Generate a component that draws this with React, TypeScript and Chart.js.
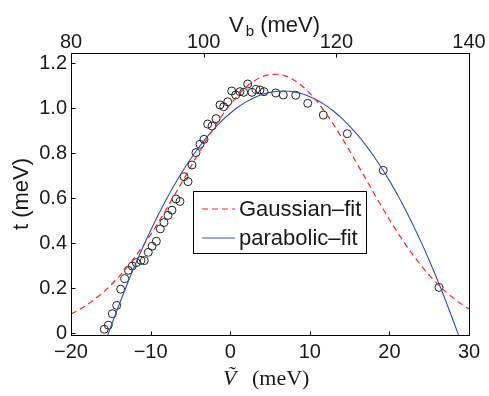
import React, { useEffect, useRef } from 'react';
import { Chart, registerables } from 'chart.js';

Chart.register(...registerables);

// ---- data ----
const vTilde = [
  -15.82, -15.31, -14.81, -14.26, -13.76, -13.25, -12.8, -12.3, -11.8, -11.21,
  -10.79, -10.29, -9.82, -9.28, -8.78, -8.32, -7.81, -7.31, -6.81, -6.31,
  -5.8, -5.3, -4.8, -4.3, -3.79, -3.29, -2.83, -2.29, -1.78, -1.28,
  -0.82, -0.31, 0.19, 0.69, 1.23, 1.7, 2.2, 2.74, 3.24, 3.74,
  4.25, 5.72, 6.67, 8.23, 9.74, 11.7, 14.71, 19.23, 26.23,
];
const tMeasured = [
  0.018, 0.036, 0.087, 0.124, 0.196, 0.243, 0.28, 0.299, 0.314, 0.324,
  0.323, 0.36, 0.387, 0.409, 0.464, 0.492, 0.524, 0.547, 0.597, 0.586,
  0.696, 0.674, 0.748, 0.803, 0.84, 0.862, 0.93, 0.921, 0.954, 1.015,
  1.007, 1.029, 1.077, 1.059, 1.074, 1.071, 1.108, 1.071, 1.084, 1.081,
  1.074, 1.068, 1.059, 1.058, 1.022, 0.97, 0.887, 0.724, 0.204,
];

const gaussV = [
  -20, -19, -18, -17, -16, -15, -14, -13, -12, -11,
  -10, -9, -8, -7, -6, -5, -4, -3, -2, -1,
  0, 1, 2, 3, 4, 5, 6, 7, 8, 9,
  10, 11, 12, 13, 14, 15, 16, 17, 18, 19,
  20, 21, 22, 23, 24, 25, 26, 27, 28, 29, 30,
];
const gaussT = [
  0.0855, 0.1044, 0.1264, 0.1518, 0.1809, 0.2138, 0.2509, 0.2919, 0.337, 0.3859,
  0.4386, 0.4943, 0.553, 0.6136, 0.6754, 0.7375, 0.7991, 0.8591, 0.9161, 0.9691,
  1.0172, 1.0593, 1.0943, 1.1215, 1.1404, 1.1504, 1.1513, 1.1431, 1.126, 1.1004,
  1.0669, 1.0261, 0.9792, 0.927, 0.8707, 0.8113, 0.75, 0.6879, 0.6259, 0.565,
  0.506, 0.4495, 0.3962, 0.3465, 0.3006, 0.2587, 0.221, 0.1872, 0.1573, 0.1312, 0.1085,
];

const parabV = [
  -15.5, -15, -14, -13, -12, -11, -10, -9, -8, -7,
  -6, -5, -4, -3, -2, -1, 0, 1, 2, 3,
  4, 5, 6, 7, 8, 9, 10, 11, 12, 13,
  14, 15, 16, 17, 18, 19, 20, 21, 22, 23,
  24, 25, 26, 27, 28, 29,
];
const parabT = [
  -0.0197, 0.0292, 0.1238, 0.2138, 0.2994, 0.3806, 0.4572, 0.5294, 0.5971, 0.6604,
  0.7192, 0.7735, 0.8233, 0.8687, 0.9096, 0.946, 0.978, 1.0055, 1.0285, 1.0471,
  1.0611, 1.0707, 1.0759, 1.0766, 1.0728, 1.0645, 1.0518, 1.0345, 1.0129, 0.9867,
  0.9561, 0.921, 0.8814, 0.8374, 0.7889, 0.7359, 0.6785, 0.6166, 0.5502, 0.4794,
  0.404, 0.3243, 0.24, 0.1513, 0.0581, -0.0396,
];

const xTicks = [-20, -10, 0, 10, 20, 30];
const vbTicks = [80, 100, 120, 140];
const yTicks = [0, 0.2, 0.4, 0.6, 0.8, 1.0, 1.2];
const legendLabels = ['Gaussian\u2013fit', 'parabolic\u2013fit'];
const yTitle = 't (meV)';
const topTitleMain = 'V';
const topTitleSub = 'b';
const topTitleUnit = '(meV)';
const bottomTitleVar = '\u1E7C';
const bottomTitleUnit = '(meV)';

const RED = 'rgb(238, 40, 45)';
const BLUE = 'rgb(50, 80, 170)';
const TXT = '#1a1a1a';
const SANS = '"Liberation Sans", Arial, Helvetica, sans-serif';
const SERIF = '"Liberation Serif", "Times New Roman", serif';

const fmtX = (v: number) => (v < 0 ? '\u2212' + Math.abs(v) : String(v));
const fmtY = (v: number) => (Math.abs(v) < 1e-9 ? '0' : v.toFixed(1));

const decor = {
  id: 'decor',
  afterDraw(chart: any) {
    const { ctx, chartArea: a, scales } = chart;
    ctx.save();
    const L = Math.round(a.left) + 0.5;
    const R = Math.round(a.right) + 0.5;
    const T = Math.floor(a.top) + 0.5;
    const B = Math.round(a.bottom) + 0.5;
    ctx.strokeStyle = '#000';
    ctx.lineWidth = 1;
    ctx.setLineDash([]);
    ctx.strokeRect(L, T, R - L, B - T);
    const tl = 4;
    ctx.beginPath();
    xTicks.forEach((v) => {
      const px = Math.round(scales.x.getPixelForValue(v)) + 0.5;
      ctx.moveTo(px, B);
      ctx.lineTo(px, B - tl);
    });
    vbTicks.forEach((v) => {
      const px = Math.round(scales.xTop.getPixelForValue(v)) + 0.5;
      ctx.moveTo(px, T);
      ctx.lineTo(px, T + tl);
    });
    yTicks.forEach((v) => {
      const py = Math.round(scales.y.getPixelForValue(v)) + 0.5;
      ctx.moveTo(L, py);
      ctx.lineTo(L + tl, py);
    });
    ctx.stroke();

    // legend
    const lx = 193.5, ly = 191.5, lw = 173, lh = 62;
    ctx.fillStyle = '#fff';
    ctx.fillRect(lx, ly, lw, lh);
    ctx.strokeStyle = '#000';
    ctx.strokeRect(lx, ly, lw, lh);
    const rows = [
      { y: 209, base: 216, color: RED, dash: [6, 4], w: 1.2 },
      { y: 238, base: 245, color: BLUE, dash: [], w: 1.1 },
    ];
    rows.forEach((r, i) => {
      ctx.beginPath();
      ctx.strokeStyle = r.color;
      ctx.lineWidth = r.w;
      ctx.setLineDash(r.dash);
      ctx.moveTo(202, r.y);
      ctx.lineTo(235, r.y);
      ctx.stroke();
      ctx.setLineDash([]);
      ctx.fillStyle = TXT;
      ctx.font = '22px ' + SANS;
      ctx.textAlign = 'left';
      ctx.textBaseline = 'alphabetic';
      ctx.fillText(legendLabels[i], 239, r.base);
    });

    // top title V_b (meV)
    ctx.fillStyle = TXT;
    ctx.textBaseline = 'alphabetic';
    ctx.textAlign = 'left';
    ctx.font = '22px ' + SANS;
    let x = 229;
    ctx.fillText(topTitleMain, x, 32);
    x += ctx.measureText(topTitleMain).width + 2;
    ctx.font = '15px ' + SANS;
    ctx.fillText(topTitleSub, x, 36);
    x += ctx.measureText(topTitleSub).width;
    ctx.font = '22px ' + SANS;
    x += ctx.measureText(' ').width;
    ctx.fillText(topTitleUnit, x, 32);

    // bottom title
    ctx.font = 'italic 22px ' + SERIF;
    ctx.fillText(bottomTitleVar, 223, 385);
    ctx.font = '22px ' + SERIF;
    ctx.fillText(bottomTitleUnit, 252, 385);

    // y title
    ctx.save();
    ctx.translate(28, 194);
    ctx.rotate(-Math.PI / 2);
    ctx.textAlign = 'center';
    ctx.font = '22px ' + SANS;
    ctx.fillText(yTitle, 0, 0);
    ctx.restore();

    ctx.restore();
  },
};

export default function App() {
  const ref = useRef<HTMLCanvasElement>(null);
  useEffect(() => {
    if (!ref.current) return;
    const chart = new Chart(ref.current, {
      type: 'scatter',
      data: {
        datasets: [
          {
            label: legendLabels[0],
            data: gaussV.map((x, i) => ({ x, y: gaussT[i] })),
            showLine: true,
            borderColor: RED,
            borderWidth: 1.2,
            borderDash: [6, 4],
            pointRadius: 0,
            fill: false,
            cubicInterpolationMode: 'monotone',
            xAxisID: 'x',
            yAxisID: 'y',
          },
          {
            label: legendLabels[1],
            data: parabV.map((x, i) => ({ x, y: parabT[i] })),
            showLine: true,
            borderColor: BLUE,
            borderWidth: 1.1,
            pointRadius: 0,
            fill: false,
            cubicInterpolationMode: 'monotone',
            xAxisID: 'x',
            yAxisID: 'y',
          },
          {
            label: 'data',
            data: vTilde.map((x, i) => ({ x, y: tMeasured[i] })),
            showLine: false,
            pointStyle: 'circle',
            pointRadius: 4,
            pointBorderWidth: 1,
            pointBorderColor: '#222',
            pointBackgroundColor: 'rgba(0,0,0,0)',
            xAxisID: 'x',
            yAxisID: 'y',
          },
        ],
      } as any,
      options: {
        responsive: false,
        animation: false,
        devicePixelRatio: 1,
        events: [],
        layout: { padding: { left: 0, right: 20, top: 0, bottom: 0 } },
        plugins: {
          legend: { display: false },
          tooltip: { enabled: false },
          title: { display: false },
        },
        scales: {
          x: {
            type: 'linear',
            position: 'bottom',
            min: -20,
            max: 30,
            grid: { display: false, drawTicks: false },
            border: { display: false },
            afterBuildTicks: (s: any) => { s.ticks = xTicks.map((v) => ({ value: v })); },
            afterFit: (s: any) => { s.height = 61; },
            ticks: {
              padding: 5,
              maxRotation: 0,
              autoSkip: false,
              color: TXT,
              font: { size: 20, family: SANS },
              callback: (v: any) => fmtX(Number(v)),
            },
          },
          xTop: {
            type: 'linear',
            axis: 'x',
            position: 'top',
            min: 80,
            max: 140,
            grid: { display: false, drawTicks: false },
            border: { display: false },
            afterBuildTicks: (s: any) => { s.ticks = vbTicks.map((v) => ({ value: v })); },
            afterFit: (s: any) => { s.height = 53.5; },
            ticks: {
              padding: -1,
              maxRotation: 0,
              autoSkip: false,
              color: TXT,
              font: { size: 20, family: SANS },
              callback: (v: any) => String(v),
            },
          },
          y: {
            type: 'linear',
            position: 'left',
            min: -0.0076,
            max: 1.2435,
            grid: { display: false, drawTicks: false },
            border: { display: false },
            afterBuildTicks: (s: any) => { s.ticks = yTicks.map((v) => ({ value: v })); },
            afterFit: (s: any) => { s.width = 71; },
            ticks: {
              padding: 4,
              autoSkip: false,
              color: TXT,
              font: { size: 20, family: SANS },
              callback: (v: any) => fmtY(Number(v)),
            },
          },
        } as any,
      },
      plugins: [decor],
    });
    return () => chart.destroy();
  }, []);
  return (
    <div style={{ position: 'fixed', left: 0, top: 0, width: 489, height: 396, background: '#fff' }}>
      <canvas ref={ref} width={489} height={396} style={{ display: 'block', width: 489, height: 396 }} />
    </div>
  );
}
